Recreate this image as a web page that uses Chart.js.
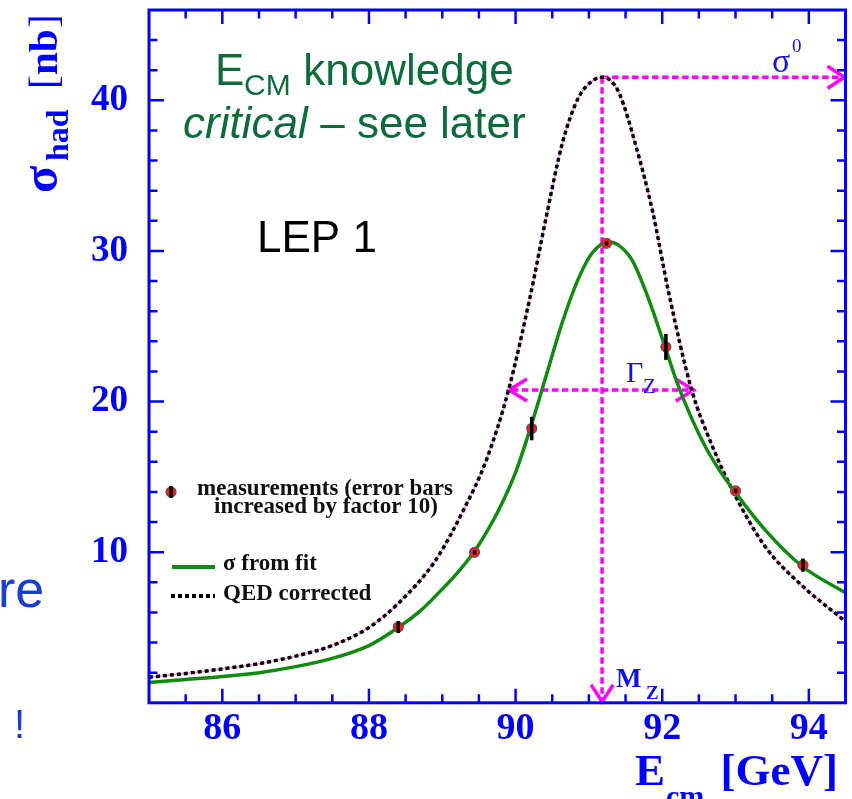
<!DOCTYPE html>
<html>
<head>
<meta charset="utf-8">
<title>Hadronic cross-section at the Z resonance</title>
<script src="https://cdn.jsdelivr.net/npm/chart.js@4/dist/chart.umd.min.js"></script>
<style>
  html, body { margin: 0; padding: 0; background: #ffffff; }
  canvas { display: block; }
</style>
</head>
<body>
<canvas id="c" width="852" height="799"></canvas>
<script>
// Centre-of-mass energies of the scan points [GeV] and measured sigma_had [nb]
const scanEnergy = [88.40, 89.44, 90.22, 91.24, 92.05, 93.00, 93.92];
const scanSigma  = [5.03, 9.99, 18.21, 30.51, 23.63, 14.07, 9.14];
const scanError  = [0.40, 0.15, 0.78, 0.15, 0.86, 0.15, 0.44]; // x10 enlarged

// Fitted cross-section (with initial-state radiation)
const fitEnergy = [85.0, 85.5, 86.0, 86.5, 87.0, 87.5, 88.0, 88.4, 88.7, 88.96, 89.2, 89.43, 89.6, 89.78, 90.0, 90.2, 90.41, 90.64, 90.86, 91.05, 91.27, 91.4, 91.6, 91.8, 92.0, 92.2, 92.4, 92.6, 92.8, 93.0, 93.4, 93.9, 94.5];
const fitSigma  = [1.35, 1.55, 1.75, 2.0, 2.4, 2.95, 3.8, 5.0, 6.1, 7.35, 8.6, 10.0, 11.3, 12.9, 15.3, 18.2, 21.6, 25.3, 28.2, 29.9, 30.6, 30.4, 29.3, 27.0, 24.2, 21.3, 18.9, 16.9, 15.3, 13.95, 11.5, 9.1, 7.3];

// QED-corrected (deconvoluted) line shape
const qedEnergy = [85.0, 85.5, 86.0, 86.5, 87.0, 87.5, 88.0, 88.4, 88.9, 89.3, 89.6, 89.9, 90.2, 90.42, 90.64, 90.86, 91.05, 91.18, 91.3, 91.42, 91.64, 91.87, 92.09, 92.4, 92.67, 92.97, 93.4, 93.88, 94.5];
const qedSigma  = [1.7, 1.95, 2.25, 2.6, 3.1, 3.8, 5.0, 6.6, 9.4, 12.9, 16.1, 20.7, 27.0, 32.3, 37.2, 40.2, 41.3, 41.54, 41.3, 40.4, 37.0, 32.6, 27.2, 20.8, 17.2, 14.0, 10.4, 7.9, 5.4];

// Resonance parameters marked on the plot
const massZ = 91.18;       // GeV
const sigmaPeak = 41.54;   // nb
const halfMax = 20.77;     // nb
const widthLow = 89.91;    // GeV
const widthHigh = 92.43;   // GeV

// Axis ticks
const xMin = 85, xMax = 94.5, xStep = 0.5, xLabelled = [86, 88, 90, 92, 94];
const yMin = 0, yMax = 46, yStep = 2, yLabelled = [10, 20, 30, 40];

const BLUE = '#0000ff';
const MAGENTA = '#ff00ff';
const SERIF = '"Liberation Serif", "Times New Roman", serif';
const SANS = '"Liberation Sans", Arial, sans-serif';

const pts = (xs, ys) => xs.map((x, i) => ({ x: x, y: ys[i] }));
const isLabelled = (list, v) => list.some(t => Math.abs(t - v) < 1e-6);

function runs(ctx, items) {
  for (const it of items) {
    ctx.font = it.font;
    ctx.fillStyle = it.color;
    ctx.textAlign = it.align || 'left';
    ctx.textBaseline = 'alphabetic';
    ctx.fillText(it.text, it.x, it.y);
  }
}

function dashedLine(ctx, x1, y1, x2, y2) {
  ctx.save();
  ctx.strokeStyle = MAGENTA;
  ctx.lineWidth = 3.5;
  ctx.setLineDash([6.5, 3.5]);
  ctx.beginPath();
  ctx.moveTo(x1, y1);
  ctx.lineTo(x2, y2);
  ctx.stroke();
  ctx.restore();
}

function arrowHead(ctx, tx, ty, dx, dy, back, half) {
  // open chevron pointing in direction (dx, dy)
  const nx = -dy, ny = dx;
  ctx.save();
  ctx.strokeStyle = MAGENTA;
  ctx.lineWidth = 3.5;
  ctx.setLineDash([]);
  ctx.beginPath();
  ctx.moveTo(tx - dx * back + nx * half, ty - dy * back + ny * half);
  ctx.lineTo(tx, ty);
  ctx.lineTo(tx - dx * back - nx * half, ty - dy * back - ny * half);
  ctx.stroke();
  ctx.restore();
}

const resonanceMarks = {
  id: 'resonanceMarks',
  beforeDatasetsDraw(chart) {
    const ctx = chart.ctx, xs = chart.scales.x, ys = chart.scales.y, a = chart.chartArea;
    const mx = xs.getPixelForValue(massZ);
    const py = ys.getPixelForValue(sigmaPeak);
    const hy = ys.getPixelForValue(halfMax);
    const gl = xs.getPixelForValue(widthLow), gr = xs.getPixelForValue(widthHigh);
    ctx.save();
    ctx.beginPath();
    ctx.rect(a.left - 2, a.top - 2, a.right - a.left + 4, a.bottom - a.top + 4);
    ctx.clip();
    // peak height -> sigma0
    dashedLine(ctx, mx, py, a.right - 2, py);
    arrowHead(ctx, a.right - 1, py, 1, 0, 17, 11);
    // peak position -> M_Z
    dashedLine(ctx, mx, py, mx, a.bottom - 2);
    arrowHead(ctx, mx, a.bottom - 1, 0, 1, 17, 11);
    // full width at half maximum
    dashedLine(ctx, gl + 3, hy, gr - 3, hy);
    arrowHead(ctx, gl, hy, -1, 0, 18, 11);
    arrowHead(ctx, gr, hy, 1, 0, 18, 11);
    ctx.restore();
  }
};

const errorBars = {
  id: 'errorBars',
  afterDatasetsDraw(chart) {
    const ctx = chart.ctx, xs = chart.scales.x, ys = chart.scales.y;
    ctx.save();
    ctx.strokeStyle = '#000000';
    ctx.lineWidth = 3.5;
    ctx.lineCap = 'butt';
    scanEnergy.forEach((e, i) => {
      const px = xs.getPixelForValue(e);
      const lo = ys.getPixelForValue(scanSigma[i] - scanError[i]);
      const hi = ys.getPixelForValue(scanSigma[i] + scanError[i]);
      ctx.beginPath();
      ctx.moveTo(px, lo);
      ctx.lineTo(px, hi);
      ctx.stroke();
    });
    ctx.restore();
  }
};

const frameAndText = {
  id: 'frameAndText',
  afterDraw(chart) {
    const ctx = chart.ctx, xs = chart.scales.x, ys = chart.scales.y, a = chart.chartArea;
    ctx.save();
    // inward ticks on all four sides
    ctx.strokeStyle = BLUE;
    ctx.lineWidth = 2.5;
    ctx.beginPath();
    xs.ticks.forEach(t => {
      const px = xs.getPixelForValue(t.value);
      if (px < a.left + 2 || px > a.right - 2) return;
      const len = isLabelled(xLabelled, t.value) ? 14 : 8.5;
      ctx.moveTo(px, a.bottom); ctx.lineTo(px, a.bottom - len);
      ctx.moveTo(px, a.top); ctx.lineTo(px, a.top + len);
    });
    ys.ticks.forEach(t => {
      const py = ys.getPixelForValue(t.value);
      if (py < a.top + 2 || py > a.bottom - 2) return;
      const len = isLabelled(yLabelled, t.value) ? 15 : 8.5;
      ctx.moveTo(a.left, py); ctx.lineTo(a.left + len, py);
      ctx.moveTo(a.right, py); ctx.lineTo(a.right - len, py);
    });
    ctx.stroke();
    // frame
    ctx.lineWidth = 3;
    ctx.strokeRect(a.left, a.top, a.right - a.left, a.bottom - a.top);
    ctx.restore();

    ctx.save();
    // axis titles
    ctx.save();
    ctx.translate(57, 0);
    ctx.rotate(-Math.PI / 2);
    runs(ctx, [
      { text: 'σ', x: -193, y: 0, font: 'bold 50px ' + SERIF, color: BLUE },
      { text: 'had', x: -161, y: 11, font: 'bold 32px ' + SERIF, color: BLUE },
      { text: '[', x: -89, y: 0, font: '41px ' + SERIF, color: BLUE },
      { text: 'nb', x: -75, y: 0, font: 'bold 41px ' + SERIF, color: BLUE },
      { text: ']', x: -28, y: 0, font: '41px ' + SERIF, color: BLUE }
    ]);
    ctx.restore();
    runs(ctx, [
      { text: 'E', x: 635, y: 785, font: 'bold 45px ' + SERIF, color: BLUE },
      { text: 'cm', x: 666, y: 806, font: 'bold 30px ' + SERIF, color: BLUE },
      { text: '[GeV]', x: 838, y: 785, font: 'bold 45px ' + SERIF, color: BLUE, align: 'right' }
    ]);

    // resonance labels
    runs(ctx, [
      { text: 'σ', x: 772, y: 72, font: '34px ' + SERIF, color: '#1010e8' },
      { text: '0', x: 792, y: 52, font: '19px ' + SERIF, color: '#1010e8' },
      { text: 'Γ', x: 626, y: 382, font: '30px ' + SERIF, color: '#1010e8' },
      { text: 'Z', x: 643, y: 393, font: '21px ' + SERIF, color: '#1010e8' },
      { text: 'M', x: 616, y: 687, font: 'bold 27px ' + SERIF, color: '#1010e8' },
      { text: 'Z', x: 646, y: 699, font: 'bold 19px ' + SERIF, color: '#1010e8' }
    ]);

    // headline
    const GREEN_TXT = '#0e6b3b';
    runs(ctx, [
      { text: 'E', x: 215, y: 85, font: '44px ' + SANS, color: GREEN_TXT },
      { text: 'CM', x: 244, y: 95, font: '30px ' + SANS, color: GREEN_TXT },
      { text: ' knowledge', x: 291, y: 85, font: '44px ' + SANS, color: GREEN_TXT },
      { text: 'critical', x: 183, y: 138, font: 'italic 44px ' + SANS, color: GREEN_TXT },
      { text: ' – see later', x: 308, y: 138, font: '44px ' + SANS, color: GREEN_TXT },
      { text: 'LEP 1', x: 257, y: 252, font: '44px ' + SANS, color: '#000000' }
    ]);

    // legend
    ctx.fillStyle = '#ff1a1a';
    ctx.strokeStyle = '#555555';
    ctx.lineWidth = 1.2;
    ctx.beginPath();
    ctx.arc(171, 492, 5, 0, Math.PI * 2);
    ctx.fill();
    ctx.stroke();
    ctx.strokeStyle = '#000000';
    ctx.lineWidth = 3.5;
    ctx.beginPath();
    ctx.moveTo(171, 486); ctx.lineTo(171, 498);
    ctx.stroke();
    runs(ctx, [
      { text: 'measurements (error bars', x: 325, y: 495, font: 'bold 23px ' + SERIF, color: '#111111', align: 'center' },
      { text: 'increased by factor 10)', x: 326, y: 513, font: 'bold 23px ' + SERIF, color: '#111111', align: 'center' },
      { text: 'σ from fit', x: 223, y: 570, font: 'bold 23px ' + SERIF, color: '#111111' },
      { text: 'QED corrected', x: 223, y: 600, font: 'bold 23px ' + SERIF, color: '#111111' }
    ]);
    ctx.strokeStyle = '#128a12';
    ctx.lineWidth = 4;
    ctx.beginPath();
    ctx.moveTo(172, 567); ctx.lineTo(215, 567);
    ctx.stroke();
    ctx.strokeStyle = '#000000';
    ctx.setLineDash([4, 3]);
    ctx.beginPath();
    ctx.moveTo(171, 596); ctx.lineTo(215, 596);
    ctx.stroke();
    ctx.setLineDash([]);

    // slide text at the left margin
    runs(ctx, [
      { text: 're', x: -2, y: 607, font: '52px ' + SANS, color: '#1a3fd0' },
      { text: '!', x: 14, y: 738, font: '40px ' + SANS, color: '#1a3fd0' }
    ]);
    ctx.restore();
  }
};

function noEdgePadding(s) {
  s.paddingTop = 0;
  s.paddingBottom = 0;
  s.paddingLeft = 0;
  s.paddingRight = 0;
}

new Chart(document.getElementById('c'), {
  type: 'scatter',
  data: {
    datasets: [
      {
        label: 'measurements',
        data: pts(scanEnergy, scanSigma),
        pointRadius: 5,
        pointBackgroundColor: '#ff1a1a',
        pointBorderColor: '#555555',
        pointBorderWidth: 1.2,
        showLine: false,
        order: 0
      },
      {
        label: 'σ from fit',
        data: pts(fitEnergy, fitSigma),
        showLine: true,
        borderColor: '#128a12',
        borderWidth: 3.5,
        pointRadius: 0,
        cubicInterpolationMode: 'monotone',
        order: 1
      },
      {
        label: 'QED corrected',
        data: pts(qedEnergy, qedSigma),
        showLine: true,
        borderColor: '#000000',
        borderWidth: 3.5,
        borderDash: [4, 3],
        pointRadius: 0,
        cubicInterpolationMode: 'monotone',
        order: 2
      },
      {
        label: 'QED corrected (line)',
        data: pts(qedEnergy, qedSigma),
        showLine: true,
        borderColor: '#f08ee0',
        borderWidth: 1.5,
        pointRadius: 0,
        cubicInterpolationMode: 'monotone',
        order: 3
      }
    ]
  },
  options: {
    responsive: false,
    animation: false,
    devicePixelRatio: 1,
    layout: { padding: { top: 10, right: 6.5, left: 0, bottom: 0 } },
    plugins: { legend: { display: false }, tooltip: { enabled: false } },
    scales: {
      x: {
        type: 'linear',
        min: xMin,
        max: xMax,
        grid: { display: false, drawTicks: false },
        border: { display: false },
        ticks: {
          stepSize: xStep,
          autoSkip: false,
          maxRotation: 0,
          padding: 4,
          color: BLUE,
          font: { family: SERIF, size: 38, weight: 'bold' },
          callback: v => isLabelled(xLabelled, v) ? String(Math.round(v)) : ''
        },
        afterFit(s) { s.height = 96.2; noEdgePadding(s); }
      },
      y: {
        type: 'linear',
        min: yMin,
        max: yMax,
        grid: { display: false, drawTicks: false },
        border: { display: false },
        ticks: {
          stepSize: yStep,
          autoSkip: false,
          padding: 21,
          color: BLUE,
          font: { family: SERIF, size: 37, weight: 'bold' },
          callback: v => isLabelled(yLabelled, v) ? String(Math.round(v)) : ''
        },
        afterFit(s) { s.width = 149; noEdgePadding(s); }
      }
    }
  },
  plugins: [resonanceMarks, errorBars, frameAndText]
});
</script>
</body>
</html>
